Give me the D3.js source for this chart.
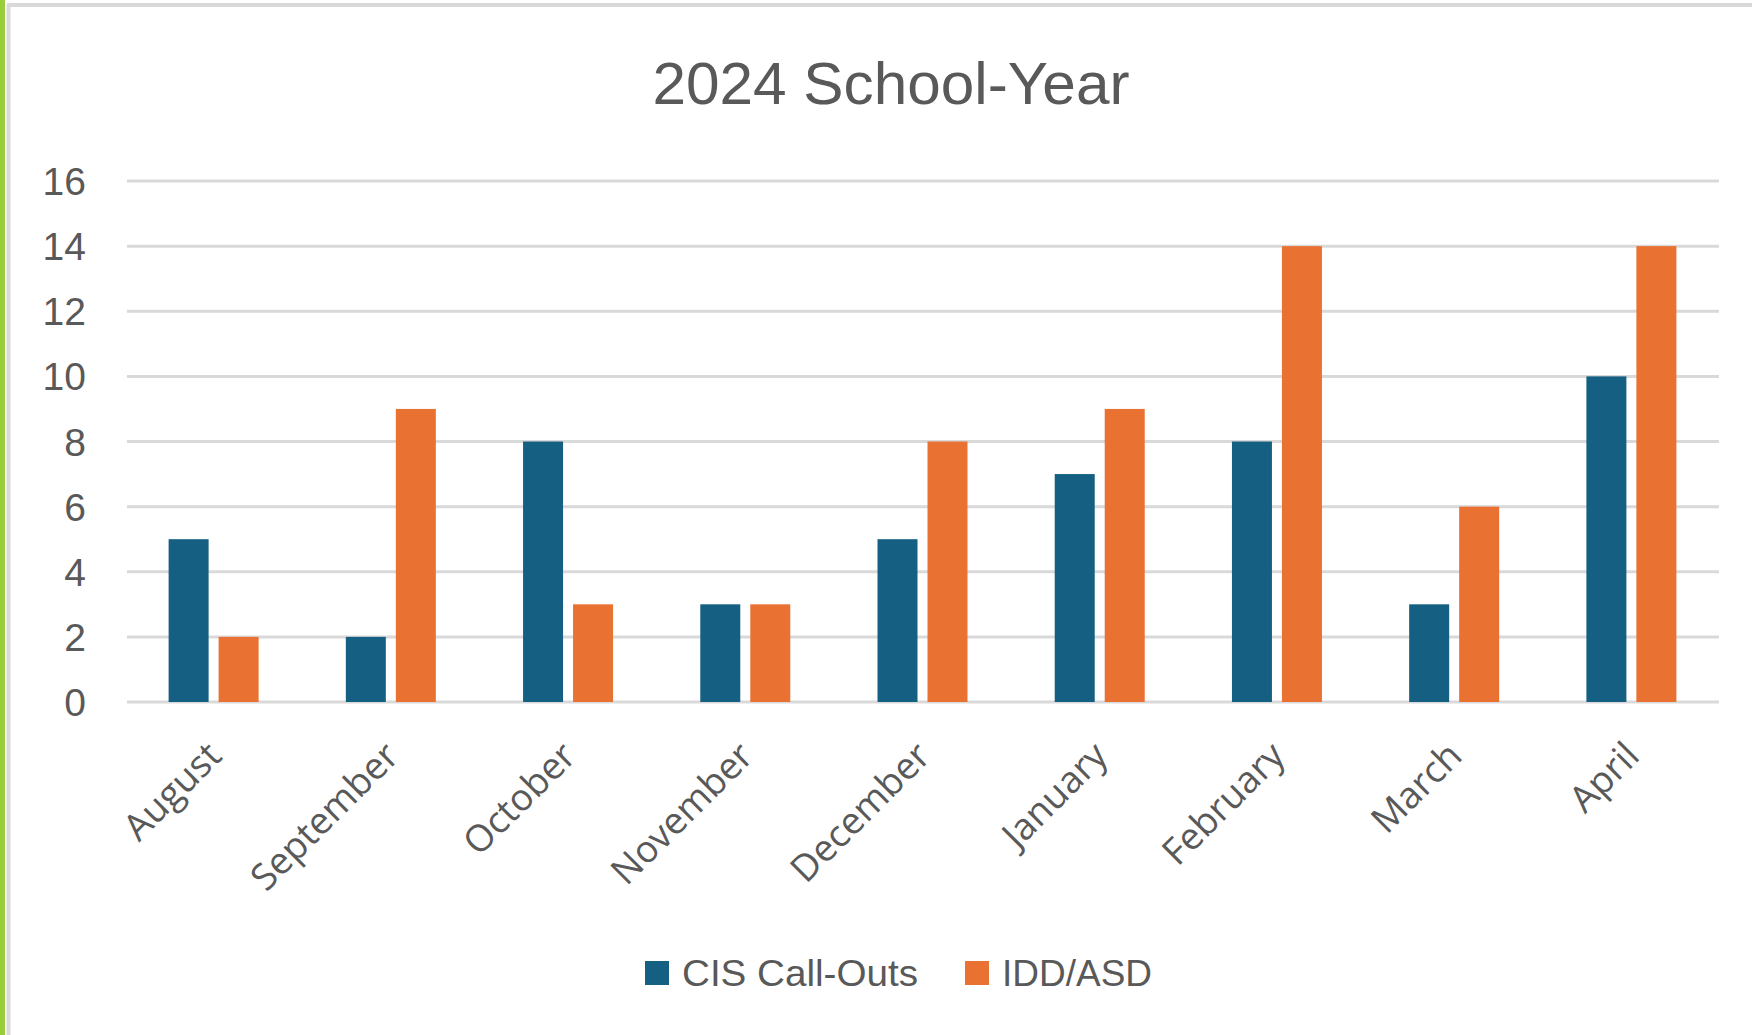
<!DOCTYPE html>
<html>
<head>
<meta charset="utf-8">
<script src="https://cdn.jsdelivr.net/npm/d3@7"></script>
<style>
  html, body { margin: 0; padding: 0; background: #fff; }
  svg { display: block; }
</style>
</head>
<body>
<div id="js_chart"></div>
<script>
// chart data
var months = ["August", "September", "October", "November", "December", "January", "February", "March", "April"];
var cisCallOuts = [5, 2, 8, 3, 5, 7, 8, 3, 10];
var iddAsd = [2, 9, 3, 3, 8, 9, 14, 6, 14];
var seriesNames = ["CIS Call-Outs", "IDD/ASD"];
var yTicks = [0, 2, 4, 6, 8, 10, 12, 14, 16];

var W = 1752, H = 1035;
var colors = ["#156082", "#E97132"];
var textColor = "#595959";

var svg = d3.select("#js_chart").append("svg")
  .attr("width", W)
  .attr("height", H);

// frame: green strip on the left, grey chart border
svg.append("rect").attr("x", 0).attr("y", 0).attr("width", 5).attr("height", H).attr("fill", "#9ACD3A");
svg.append("line").attr("x1", 8.5).attr("y1", 5).attr("x2", 8.5).attr("y2", H)
  .attr("stroke", "#d9d9d9").attr("stroke-width", 4);
svg.append("line").attr("x1", 7).attr("y1", 5).attr("x2", W).attr("y2", 5)
  .attr("stroke", "#d9d9d9").attr("stroke-width", 4);

var plot = { left: 127, right: 1719, top: 181, bottom: 702 };

var x0 = d3.scaleBand()
  .domain(months)
  .range([plot.left - 2, plot.right + 1]);

var y = d3.scaleLinear()
  .domain([0, 16])
  .range([plot.bottom, plot.top]);

// gridlines
svg.append("g").selectAll("line")
  .data(yTicks)
  .enter().append("line")
  .attr("x1", plot.left)
  .attr("x2", plot.right)
  .attr("y1", function (d) { return y(d); })
  .attr("y2", function (d) { return y(d); })
  .attr("stroke", "#d9d9d9")
  .attr("stroke-width", 3);

// y tick labels
svg.append("g").selectAll("text")
  .data(yTicks)
  .enter().append("text")
  .attr("x", 86)
  .attr("y", function (d) { return y(d); })
  .attr("dy", "0.36em")
  .attr("text-anchor", "end")
  .attr("font-family", "Liberation Sans, Arial, sans-serif")
  .attr("font-size", 39)
  .attr("fill", textColor)
  .text(function (d) { return d; });

// bars: 40 wide, 10 apart inside a month
var barW = 40, barGap = 10;

var rows = months.map(function (m, i) { return { month: m, values: [cisCallOuts[i], iddAsd[i]] }; });

var groups = svg.append("g").selectAll("g")
  .data(rows)
  .enter().append("g")
  .attr("transform", function (d) {
    var c = x0(d.month) + x0.bandwidth() / 2 - (barW * 2 + barGap) / 2;
    return "translate(" + c + ",0)";
  });

groups.selectAll("rect")
  .data(function (d) { return d.values.map(function (v, k) { return { k: k, v: v }; }); })
  .enter().append("rect")
  .attr("x", function (d) { return d.k * (barW + barGap); })
  .attr("width", barW)
  .attr("y", function (d) { return y(d.v); })
  .attr("height", function (d) { return y(0) - y(d.v); })
  .attr("fill", function (d) { return colors[d.k]; });

// month labels, rotated -45
svg.append("g").selectAll("text")
  .data(months)
  .enter().append("text")
  .attr("transform", function (d) {
    var cx = x0(d) + x0.bandwidth() / 2 + 10;
    return "translate(" + cx + "," + 758 + ") rotate(-45)";
  })
  .attr("text-anchor", "end")
  .attr("font-family", "Open Sans, sans-serif")
  .attr("font-size", 37)
  .attr("fill", textColor)
  .text(function (d) { return d; });

// title
svg.append("text")
  .attr("x", 891)
  .attr("y", 104)
  .attr("text-anchor", "middle")
  .attr("font-family", "Liberation Sans, Arial, sans-serif")
  .attr("font-size", 60)
  .attr("textLength", 477)
  .attr("lengthAdjust", "spacingAndGlyphs")
  .attr("fill", textColor)
  .text("2024 School-Year");

// legend
var legendX = [645, 965];
var legendTextW = [236, 150];
var legend = svg.append("g").selectAll("g")
  .data(seriesNames)
  .enter().append("g")
  .attr("transform", function (d, i) { return "translate(" + legendX[i] + ",961)"; });

legend.append("rect")
  .attr("width", 24)
  .attr("height", 24)
  .attr("fill", function (d, i) { return colors[i]; });

legend.append("text")
  .attr("x", 37)
  .attr("y", 24.5)
  .attr("font-family", "Liberation Sans, Arial, sans-serif")
  .attr("font-size", 37)
  .attr("textLength", function (d, i) { return legendTextW[i]; })
  .attr("lengthAdjust", "spacingAndGlyphs")
  .attr("fill", textColor)
  .text(function (d) { return d; });
</script>
</body>
</html>
